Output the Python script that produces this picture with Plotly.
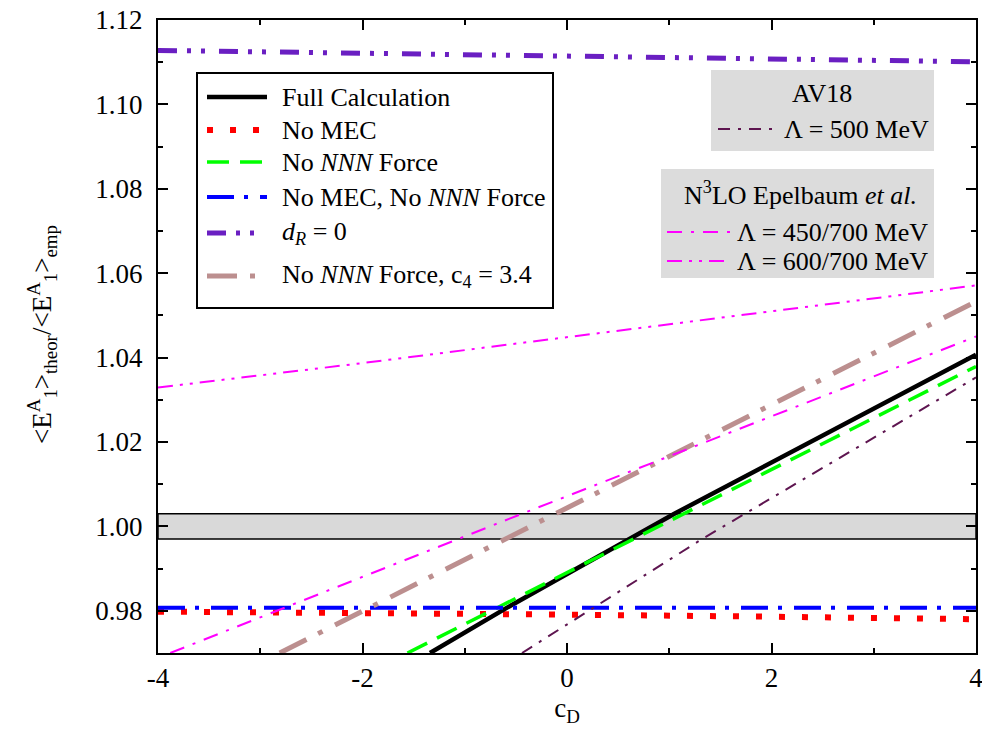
import plotly.graph_objects as go

# ---------------- data ----------------
full_x = [-1.34, -0.59, 1.05, 4.0]
full_y = [0.970, 0.9807, 1.003, 1.0407]

nomec_x = [-4.0, -2.0, 0.0, 2.0, 4.0]
nomec_y = [0.9798, 0.9796, 0.9791, 0.9786, 0.9780]

nonnn_x = [-1.56, 0.5, 4.0]
nonnn_y = [0.970, 0.9952, 1.0379]

nomec_nonnn_x = [-4.0, 4.0]
nomec_nonnn_y = [0.9807, 0.9807]

dr0_x = [-4.0, 0.0, 4.0]
dr0_y = [1.1128, 1.1115, 1.1101]

nonnn_c4_x = [-2.81, -0.60, 4.0]
nonnn_c4_y = [0.970, 0.997, 1.0533]

av18_x = [-0.44, 1.32, 4.0]
av18_y = [0.970, 0.997, 1.0353]

n3lo_450_x = [-3.88, -0.44, 4.0]
n3lo_450_y = [0.970, 1.003, 1.045]

n3lo_600_x = [-4.0, -2.1, 4.0]
n3lo_600_y = [1.0329, 1.0384, 1.0571]

band_low = 0.997
band_high = 1.003

x_range = [-4, 4]
y_range = [0.97, 1.12]
x_tickvals = [-4, -2, 0, 2, 4]
x_ticktext = ["-4", "-2", "0", "2", "4"]

legend_names = [
    "Full Calculation",
    "No MEC",
    "No <i>NNN</i> Force",
    "No MEC, No <i>NNN</i> Force",
    "<i>d</i><sub><i>R</i></sub> = 0",
    "No <i>NNN</i> Force, c<sub>4</sub> = 3.4",
]
av18_label = "Λ = 500 MeV"
n3lo_labels = ["Λ = 450/700 MeV", "Λ = 600/700 MeV"]

# ---------------- styles ----------------
FONT = "Liberation Serif"
C_BLACK = "#000000"
C_RED = "#ff0000"
C_GREEN = "#00ff00"
C_BLUE = "#0000ff"
C_PURPLE = "#6a1fc2"
C_BROWN = "#bc8f8f"
C_MAROON = "#5e1550"
C_MAGENTA = "#ff00ff"

S_FULL = dict(color=C_BLACK, width=4.5, dash="solid")
S_NOMEC = dict(color=C_RED, width=6, dash="6px,17px")
S_NONNN = dict(color=C_GREEN, width=3.5, dash="22px,11px")
S_BOTH = dict(color=C_BLUE, width=4, dash="27px,10px,4px,12px")
S_DR0 = dict(color=C_PURPLE, width=5, dash="19px,10px,4px,10px,4px,14px")
S_C4 = dict(color=C_BROWN, width=5, dash="30px,13px,5px,14px")
S_AV18 = dict(color=C_MAROON, width=2, dash="12px,8px,3px,8px")
S_450 = dict(color=C_MAGENTA, width=2, dash="15px,9px,3px,9px")
S_600 = dict(color=C_MAGENTA, width=2, dash="15px,7px,3px,7px,3px,7px")

W, H = 982, 734
ML, MR, MT, MB = 158, 6, 20, 81
PW, PH = W - ML - MR, H - MT - MB


def px(x):
    return (x - ML) / PW


def py(y):
    return (H - MB - y) / PH


fig = go.Figure()

series = [
    (nomec_x, nomec_y, S_NOMEC),
    (full_x, full_y, S_FULL),
    (nonnn_x, nonnn_y, S_NONNN),
    (nomec_nonnn_x, nomec_nonnn_y, S_BOTH),
    (dr0_x, dr0_y, S_DR0),
    (nonnn_c4_x, nonnn_c4_y, S_C4),
    (av18_x, av18_y, S_AV18),
    (n3lo_450_x, n3lo_450_y, S_450),
    (n3lo_600_x, n3lo_600_y, S_600),
]
for xs, ys, st in series:
    fig.add_trace(go.Scatter(x=xs, y=ys, mode="lines", line=st,
                             showlegend=False, hoverinfo="skip"))

shapes = []
annotations = []
TXT = dict(family=FONT, size=26, color="black")

# experimental band
shapes.append(dict(type="rect", xref="paper", yref="y", x0=0, x1=1,
                   y0=band_low, y1=band_high, fillcolor="#d9d9d9",
                   line=dict(color="black", width=1.5), layer="below"))

# main legend box
shapes.append(dict(type="rect", xref="paper", yref="paper",
                   x0=px(197), x1=px(553), y0=py(308), y1=py(73),
                   fillcolor="white", line=dict(color="black", width=2)))
leg_rows = [97, 130, 162, 197, 233, 276]
leg_styles = [S_FULL, S_NOMEC, S_NONNN, S_BOTH, S_DR0, S_C4]
for name, row, st in zip(legend_names, leg_rows, leg_styles):
    shapes.append(dict(type="line", xref="paper", yref="paper",
                       x0=px(207), x1=px(267), y0=py(row), y1=py(row),
                       line=st))
    annotations.append(dict(text=name, xref="paper", yref="paper",
                            x=px(280), y=py(row), xanchor="left",
                            yanchor="middle", showarrow=False, font=TXT))

# AV18 box
shapes.append(dict(type="rect", xref="paper", yref="paper",
                   x0=px(711), x1=px(934), y0=py(151), y1=py(70),
                   fillcolor="#dcdcdc", line=dict(width=0)))
annotations.append(dict(text="AV18", xref="paper", yref="paper",
                        x=px(822), y=py(93), xanchor="center", yanchor="middle",
                        showarrow=False, font=TXT))
shapes.append(dict(type="line", xref="paper", yref="paper",
                   x0=px(718), x1=px(777), y0=py(129), y1=py(129),
                   line=S_AV18))
annotations.append(dict(text=av18_label, xref="paper", yref="paper",
                        x=px(782), y=py(129), xanchor="left", yanchor="middle",
                        showarrow=False, font=TXT))

# N3LO box
shapes.append(dict(type="rect", xref="paper", yref="paper",
                   x0=px(661), x1=px(934), y0=py(278), y1=py(169),
                   fillcolor="#dcdcdc", line=dict(width=0)))
annotations.append(dict(text="N<sup>3</sup>LO Epelbaum <i>et al.</i>",
                        xref="paper", yref="paper",
                        x=px(800), y=py(194), xanchor="center",
                        yanchor="middle", showarrow=False, font=TXT))
for lab, row, st in zip(n3lo_labels, [232, 261], [S_450, S_600]):
    shapes.append(dict(type="line", xref="paper", yref="paper",
                       x0=px(667), x1=px(730), y0=py(row), y1=py(row),
                       line=st))
    annotations.append(dict(text=lab, xref="paper", yref="paper",
                            x=px(735), y=py(row), xanchor="left",
                            yanchor="middle", showarrow=False, font=TXT))

# y-axis title
annotations.append(dict(
    text="&lt;E<sup>A</sup><sub>1</sub>&gt;<sub>theor</sub>/&lt;E<sup>A</sup><sub>1</sub>&gt;<sub>emp</sub>",
    xref="paper", yref="paper", x=px(42), y=py(335), textangle=-90,
    xanchor="center", yanchor="middle", showarrow=False,
    font=dict(family=FONT, size=27, color="black")))

fig.update_layout(
    width=W, height=H,
    margin=dict(l=ML, r=MR, t=MT, b=MB, autoexpand=False),
    paper_bgcolor="white", plot_bgcolor="white",
    font=dict(family=FONT, size=26, color="black"),
    shapes=shapes, annotations=annotations,
    showlegend=False,
)

axis_common = dict(showline=True, linecolor="black", linewidth=2,
                   mirror="ticks", ticks="inside", ticklen=10, tickwidth=2,
                   tickcolor="black", showgrid=False, zeroline=False,
                   automargin=False, ticklabeloverflow="allow",
                   tickfont=dict(family=FONT, size=27, color="black"))

fig.update_xaxes(range=x_range, tickmode="array", tickvals=x_tickvals,
                 ticktext=x_ticktext,
                 minor=dict(ticks="inside", ticklen=5, dtick=1,
                            tickcolor="black", tickwidth=2),
                 ticklabelstandoff=0,
                 title=dict(text="c<sub>D</sub>", standoff=6,
                            font=dict(family=FONT, size=27, color="black")),
                 **axis_common)
fig.update_yaxes(range=y_range, dtick=0.02, tick0=0.98, tickformat=".2f",
                 minor=dict(ticks="inside", ticklen=5, dtick=0.01,
                            tickcolor="black", tickwidth=2),
                 ticklabelstandoff=8,
                 **axis_common)

fig.write_html("out.html")
